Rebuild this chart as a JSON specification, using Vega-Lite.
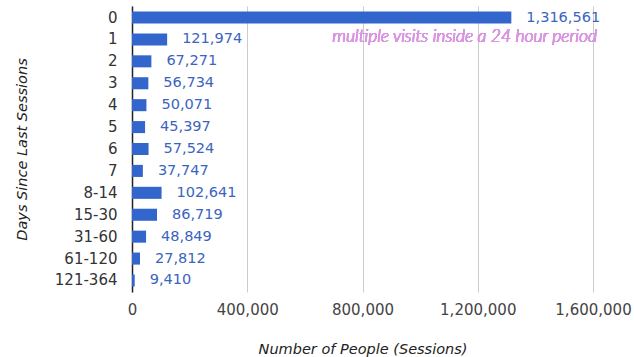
{
  "$schema": "https://vega.github.io/schema/vega-lite/v6.json",
  "autosize": {"type": "none"},
  "width": 461,
  "height": 286,
  "padding": {"left": 132, "top": 6, "right": 41, "bottom": 65},
  "background": "white",
  "config": {"view": {"stroke": null}},
  "data": {
    "values": [
      {"days": "0", "people": 1316561},
      {"days": "1", "people": 121974},
      {"days": "2", "people": 67271},
      {"days": "3", "people": 56734},
      {"days": "4", "people": 50071},
      {"days": "5", "people": 45397},
      {"days": "6", "people": 57524},
      {"days": "7", "people": 37747},
      {"days": "8-14", "people": 102641},
      {"days": "15-30", "people": 86719},
      {"days": "31-60", "people": 48849},
      {"days": "61-120", "people": 27812},
      {"days": "121-364", "people": 9410}
    ]
  },
  "encoding": {
    "y": {
      "field": "days",
      "type": "nominal",
      "sort": null,
      "scale": {"paddingInner": 0.45, "paddingOuter": 0.25},
      "axis": {
        "title": "Days Since Last Sessions",
        "titleFont": "DejaVu Sans",
        "titleFontStyle": "italic",
        "titleFontWeight": "normal",
        "titleFontSize": 14.5,
        "titleColor": "#222222",
        "titlePadding": 25,
        "labelFont": "DejaVu Sans",
        "labelFontSize": 15,
        "labelColor": "#333333",
        "labelPadding": 15,
        "ticks": false,
        "domainColor": "#222222",
        "domainWidth": 1.5
      }
    }
  },
  "layer": [
    {
      "mark": {"type": "bar", "color": "#3366cc"},
      "encoding": {
        "x": {
          "field": "people",
          "type": "quantitative",
          "scale": {"domain": [0, 1600000], "nice": false},
          "axis": {
            "values": [0, 400000, 800000, 1200000, 1600000],
            "format": ",d",
            "title": "Number of People (Sessions)",
            "titleFont": "DejaVu Sans",
            "titleFontStyle": "italic",
            "titleFontWeight": "normal",
            "titleFontSize": 14.5,
            "titleColor": "#222222",
            "titlePadding": 25,
            "labelFont": "DejaVu Sans",
            "labelFontSize": 15,
            "labelColor": "#444444",
            "labelPadding": 10,
            "ticks": false,
            "domain": false,
            "grid": true,
            "gridColor": "#cccccc",
            "labelFlush": false
          }
        }
      }
    },
    {
      "mark": {"type": "text", "align": "left", "baseline": "middle", "dx": 15, "font": "DejaVu Sans", "fontSize": 14.5, "color": "#3a64c0"},
      "encoding": {
        "x": {"field": "people", "type": "quantitative"},
        "text": {"field": "people", "type": "quantitative", "format": ",d"}
      }
    },
    {
      "mark": {"type": "text", "align": "right", "baseline": "middle", "dx": 4, "dy": -2, "font": "Lato", "fontStyle": "italic", "fontWeight": 300, "fontSize": 17.5, "color": "#d994e2"},
      "encoding": {
        "x": {"datum": 1600000, "type": "quantitative"},
        "y": {"datum": "1"},
        "text": {"value": "multiple visits inside a 24 hour period"}
      }
    }
  ]
}
